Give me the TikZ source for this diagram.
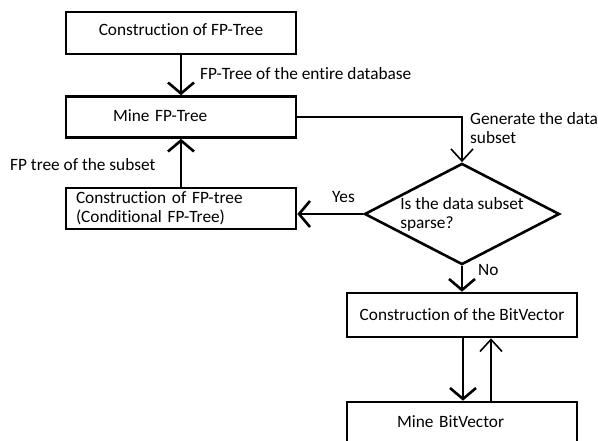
\documentclass[tikz,border=0pt]{standalone}
\usepackage{fontspec}
\setmainfont[Ligatures=NoCommon]{Carlito}
\usepackage{tikz}
\usetikzlibrary{shapes.geometric, arrows.meta}
\usetikzlibrary{positioning,calc}
\newcommand{\flowfont}{\fontsize{17.3}{19}\selectfont}

\begin{document}
\begin{tikzpicture}[x=1pt,y=-1pt]
	%defines
	\tikzstyle{process} = [rectangle, minimum width=230pt, minimum height=42pt, inner sep=0pt, text centered, draw=black, line width=2.6pt, font=\flowfont]
	\tikzstyle{decision} = [diamond, minimum width=195pt, minimum height=92pt, inner sep=-14pt, align=left, draw=black, line width=2.6pt, font=\flowfont]
	\tikzstyle{note} = [anchor=west, align=left, inner sep=0pt, font=\flowfont]
	\tikzstyle{arrow} = [line width=2.6pt, -{Straight Barb[length=11pt,width=26pt]}]
	\tikzstyle{thinarrow} = [line width=1.6pt, -{Straight Barb[length=12pt,width=22pt]}]
	\useasboundingbox (0,0) rectangle (598,440);
	\clip (0,0) rectangle (598,440);
	%chart
	\node (fpBuild) [process] at (181,33) {\raisebox{6pt}{Construction of FP-Tree}};
	\node (mineFP) [process, minimum height=41pt, text width=136pt, align=left] at (181,117) {\raisebox{3pt}{Mine FP-Tree}};
	\node (subFP) [process, minimum height=41pt, text width=210pt, align=left] at (181,208.5) {Construction of FP-tree\\(Conditional FP-Tree)};
	\node (check) [decision] at (462,214) {Is the data subset\\sparse?};
	\node (bitBuild) [process, minimum height=44pt] at (462,315) {Construction of the BitVector};
	\node (bitMine) [process, minimum height=44pt, text width=130pt, align=left] at (462,424) {\raisebox{5pt}{Mine BitVector}};
	%labels
	\node (entireLbl) [note] at (200,74) {FP-Tree of the entire database};
	\node (subsetLbl) [note] at (10,165) {FP tree of the subset};
	\node (genLbl) [note] at (470,128) {Generate the data\\subset};
	\node (yesLbl) [note] at (332,197) {Yes};
	\node (noLbl) [note] at (478,270) {No};
	%arrows
	\draw [arrow] (fpBuild.south) -- (mineFP.north);
	\draw [thinarrow] (mineFP.east) -| (check.north);
	\draw [arrow] (check.west) -- (check.west -| subFP.east);
	\draw [arrow] (subFP.north) -- (mineFP.south);
	\draw [arrow] (check.south) -- (bitBuild.north);
	\draw [arrow] ([xshift=1pt]bitBuild.south) -- ([xshift=1pt]bitMine.north);
	\draw [thinarrow] ([xshift=29pt]bitMine.north) -- ([xshift=29pt]bitBuild.south);
\end{tikzpicture}
\end{document}
